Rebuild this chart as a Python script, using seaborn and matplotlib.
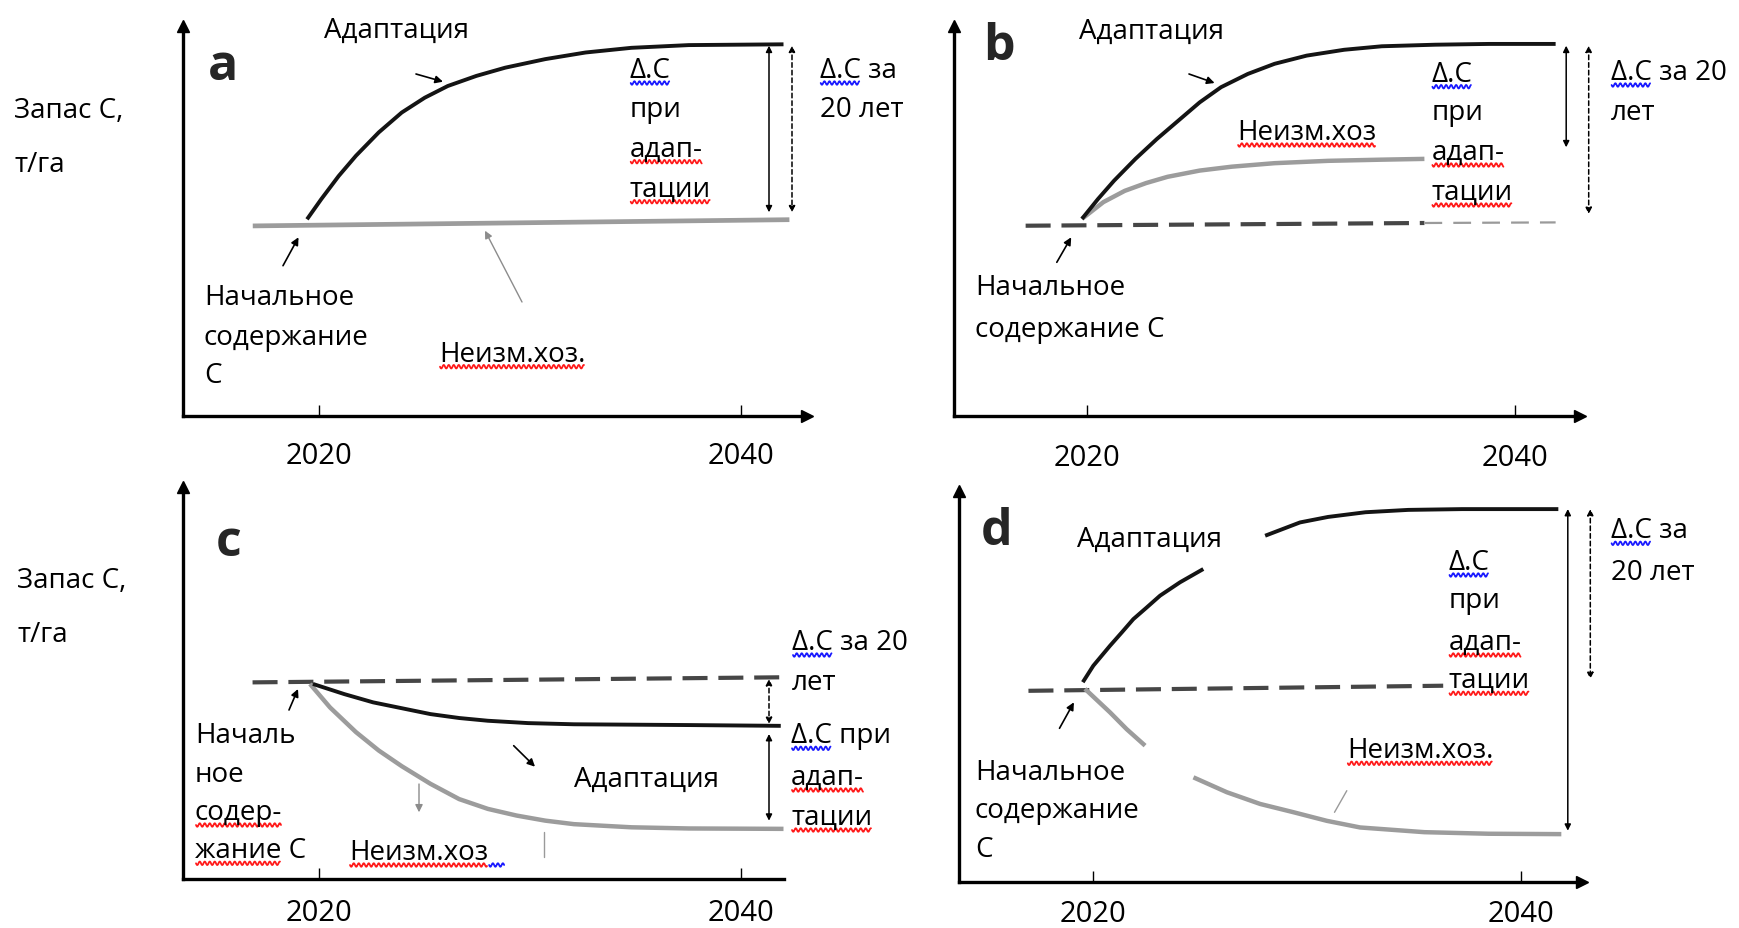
import numpy as np
import pandas as pd
import matplotlib
matplotlib.use("Agg")
import matplotlib.pyplot as plt
import seaborn as sns

sns.set_style("white")
plt.rcParams["font.family"] = ["Open Sans", "DejaVu Sans"]

# ---------------- data (years, C stock in arbitrary units 0..100) ----------------
tick_years = [2020, 2040]
tick_labels = ["2020", "2040"]

# panel a
a_adapt_year = [2019.45, 2020.13, 2020.95, 2021.77, 2022.85, 2023.94, 2025.03, 2026.12,
                2027.48, 2028.84, 2030.74, 2032.65, 2034.82, 2037.54, 2042.03]
a_adapt_val = [50.4, 55.6, 61.5, 66.7, 72.7, 77.8, 81.6, 84.6, 87.2, 89.3, 91.5, 93.2, 94.4, 95.1, 95.3]
a_base_year = [2016.88, 2042.31]
a_base_val = [48.7, 50.3]

# panel b
b_adapt_year = [2019.75, 2020.50, 2021.25, 2022.25, 2023.25, 2024.25, 2025.25, 2026.25,
                2027.50, 2028.75, 2030.25, 2032.00, 2033.76, 2036.26, 2038.76, 2041.88]
b_adapt_val = [50.5, 55.6, 60.3, 65.9, 71.0, 75.7, 80.4, 84.3, 87.7, 90.3, 92.4, 93.9, 94.8, 95.2, 95.4, 95.4]
b_bau_year = [2019.75, 2020.75, 2021.75, 2022.75, 2023.75, 2025.25, 2026.75, 2028.75, 2031.25, 2033.75, 2035.75]
b_bau_val = [50.5, 54.8, 57.7, 59.7, 61.3, 62.9, 63.9, 64.8, 65.4, 65.7, 65.9]
b_base_year = [2017.12, 2035.75]
b_base_val = [48.75, 49.45]
b_base2_year = [2035.75, 2041.88]
b_base2_val = [49.45, 49.6]

# panel c
c_adapt_year = [2019.73, 2021.22, 2022.58, 2023.94, 2025.30, 2026.66, 2028.02, 2029.93,
                2032.10, 2034.82, 2037.54, 2041.90]
c_adapt_val = [49.8, 47.2, 45.1, 43.6, 42.1, 41.1, 40.4, 39.8, 39.5, 39.4, 39.3, 39.1]
c_bau_year = [2019.59, 2020.54, 2021.77, 2022.85, 2023.94, 2025.30, 2026.66, 2028.02,
              2029.38, 2030.74, 2032.10, 2034.82, 2037.54, 2042.03]
c_bau_val = [49.8, 43.8, 37.5, 32.8, 28.8, 24.3, 20.4, 17.9, 16.2, 14.9, 14.0, 13.2, 12.9, 12.8]
c_base_year = [2016.87, 2042.03]
c_base_val = [50.2, 51.5]

# panel d (two visible pieces per curve)
d_adapt1_year = [2019.54, 2020.03, 2020.81, 2021.36, 2021.90, 2022.53, 2023.15, 2024.08, 2025.17]
d_adapt1_val = [51.1, 55.3, 60.4, 63.8, 67.2, 70.2, 73.2, 76.6, 80.0]
d_adapt2_year = [2028.06, 2029.69, 2031.0, 2032.75, 2034.75, 2037.26, 2041.76]
d_adapt2_val = [88.5, 91.9, 93.3, 94.5, 95.1, 95.3, 95.3]
d_bau1_year = [2019.64, 2020.81, 2021.59, 2022.45]
d_bau1_val = [49.4, 43.4, 39.1, 34.9]
d_bau2_year = [2024.71, 2026.27, 2027.83, 2029.38, 2030.94, 2032.50, 2035.50, 2038.50, 2041.90]
d_bau2_val = [26.8, 23.0, 20.0, 17.9, 15.7, 14.0, 12.8, 12.4, 12.3]
d_base_year = [2017.0, 2036.38]
d_base_val = [48.9, 50.2]

BLACK = "#141414"
GRAY = "#9c9c9c"
DGRAY = "#464646"

W, H = 1739, 929
fig = plt.figure(figsize=(W / 100, H / 100), dpi=100)
fig.patch.set_facecolor("white")


def add_panel(left, right, top, bottom, xlim, pad, xarrow=True):
    ax = fig.add_axes([left / W, 1 - bottom / H, (right - left) / W, (bottom - top) / H])
    ax.set_xlim(*xlim)
    ax.set_ylim(0, 100)
    ax.patch.set_alpha(0)
    for s in ["top", "right"]:
        ax.spines[s].set_visible(False)
    for s in ["left", "bottom"]:
        ax.spines[s].set_linewidth(2.4)
        ax.spines[s].set_color("black")
    ax.set_yticks([])
    ax.set_xticks(tick_years, tick_labels)
    ax.tick_params(axis="x", direction="in", length=8, width=1, labelsize=21, pad=pad,
                   colors="black", bottom=True)
    ax.plot([0], [1], marker="^", ms=9, color="black", transform=ax.transAxes, clip_on=False)
    if xarrow:
        ax.plot([1], [0], marker=">", ms=9, color="black", transform=ax.transAxes, clip_on=False)
    return ax


def curve(ax, xs, ys, color, lw, dashes=None):
    sns.lineplot(x=xs, y=ys, ax=ax, color=color, lw=lw, estimator=None, sort=False)
    line = ax.lines[-1]
    line.set_solid_capstyle("butt")
    line.set_solid_joinstyle("round")
    if dashes is not None:
        line.set_dashes(dashes)
    ax.set_xlabel("")
    ax.set_ylabel("")


ax_a = add_panel(182.5, 806.5, 27, 416.7, (2013.55, 2043.12), pad=18)
curve(ax_a, a_base_year, a_base_val, GRAY, 3.4)
curve(ax_a, a_adapt_year, a_adapt_val, BLACK, 2.8)

ax_b = add_panel(953.5, 1579.6, 27, 416.7, (2013.75, 2043.0), pad=20)
curve(ax_b, b_base_year, b_base_val, DGRAY, 3.0, dashes=(6, 2.6))
curve(ax_b, b_base2_year, b_base2_val, "#9a9a9a", 1.6, dashes=(8, 5))
curve(ax_b, b_bau_year, b_bau_val, GRAY, 3.2)
curve(ax_b, b_adapt_year, b_adapt_val, BLACK, 2.8)

ax_c = add_panel(182.5, 783.5, 488.3, 880, (2013.55, 2042.03), pad=14, xarrow=False)
curve(ax_c, c_base_year, c_base_val, DGRAY, 3.0, dashes=(6, 2.6))
curve(ax_c, c_bau_year, c_bau_val, GRAY, 3.2)
curve(ax_c, c_adapt_year, c_adapt_val, BLACK, 2.8)

ax_d = add_panel(958.9, 1582.3, 491.7, 883.3, (2013.75, 2042.88), pad=12)
curve(ax_d, d_base_year, d_base_val, DGRAY, 3.0, dashes=(6, 2.6))
curve(ax_d, d_bau1_year, d_bau1_val, GRAY, 3.2)
curve(ax_d, d_bau2_year, d_bau2_val, GRAY, 3.2)
curve(ax_d, d_adapt1_year, d_adapt1_val, BLACK, 2.8)
curve(ax_d, d_adapt2_year, d_adapt2_val, BLACK, 2.8)

# ---------------- overlay for annotations (pixel coordinates) ----------------
ov = fig.add_axes([0, 0, 1, 1])
ov.set_xlim(0, W)
ov.set_ylim(H, 0)
ov.axis("off")
ov.patch.set_alpha(0)
renderer = fig.canvas.get_renderer()
FS = 20
RED = "#ff1a1a"
BLUE = "#1a1aff"


def text_width(s, size=FS):
    t = ov.text(0, 0, s, fontsize=size)
    w = t.get_window_extent(renderer).width
    t.remove()
    return w


def squiggle(x0, x1, y, color):
    xs = np.arange(x0, x1 + 0.01, 0.5)
    ys = y + 1.8 * np.sin(2 * np.pi * (xs - x0) / 5.0)
    ov.plot(xs, ys, color=color, lw=1.3, solid_joinstyle="round")


def line_text(x, base, s, marks=()):
    ov.text(x, base, s, fontsize=FS, ha="left", va="baseline", color="black")
    for prefix, word, color in marks:
        x0 = x + (text_width(prefix) if prefix else 0)
        x1 = x0 + text_width(word)
        squiggle(x0 + 1, x1 - 1, base + 6, color)


def arrow(tail, tip, color="black", lw=1.2, scale=11):
    ov.annotate("", xy=tip, xytext=tail,
                arrowprops=dict(arrowstyle="-|>", color=color, lw=lw, mutation_scale=scale,
                                shrinkA=0, shrinkB=0))


def double_arrow(x, y0, y1, dashed=False):
    ov.annotate("", xy=(x, y1), xytext=(x, y0),
                arrowprops=dict(arrowstyle="<|-|>", color="black", lw=1.1, mutation_scale=9,
                                shrinkA=0, shrinkB=0,
                                linestyle=(0, (3, 2)) if dashed else "-"))


def plain(p0, p1, color, lw=1.1):
    ov.plot([p0[0], p1[0]], [p0[1], p1[1]], color=color, lw=lw)


# panel letters
ov.text(207.8, 80, "a", fontsize=36, fontweight="bold", va="baseline")
ov.text(982.9, 60, "b", fontsize=36, fontweight="bold", va="baseline")
ov.text(215.3, 556, "c", fontsize=36, fontweight="bold", va="baseline")
ov.text(980.3, 545, "d", fontsize=36, fontweight="bold", va="baseline")

# y labels
for xl, yb in ((14.4, 0), (17.2, 470.3)):
    line_text(xl, 118 + yb, "Запас С,")
    line_text(xl, 171.7 + yb, "т/га")

# ---- panel a texts ----
line_text(324, 38, "Адаптация")
line_text(629.7, 78, "Δ.С", [("", "Δ.С", BLUE)])
line_text(629.7, 116.7, "при")
line_text(629.7, 156.7, "адап-", [("", "адап-", RED)])
line_text(629.7, 196.7, "тации", [("", "тации", RED)])
line_text(819.7, 78, "Δ.С за", [("", "Δ.С", BLUE)])
line_text(819.7, 116.7, "20 лет")
line_text(203.8, 305, "Начальное")
line_text(203.8, 345, "содержание")
line_text(203.8, 383, "С")
line_text(439, 361.7, "Неизм.хоз.", [("", "Неизм.хоз.", RED)])
arrow((416, 75), (443, 82.7))
arrow((283, 266.7), (298.5, 238.3))
arrow((522, 303), (485, 231.7), color="#8c8c8c", lw=1.0)
double_arrow(769, 46.7, 213.3)
double_arrow(792, 46.7, 213.3, dashed=True)

# ---- panel b texts ----
line_text(1079.3, 39.3, "Адаптация")
line_text(1237.1, 140, "Неизм.хоз", [("", "Неизм.хоз", RED)])
line_text(1431.4, 81.7, "Δ.С", [("", "Δ.С", BLUE)])
line_text(1431.4, 120, "при")
line_text(1431.4, 160, "адап-", [("", "адап-", RED)])
line_text(1431.4, 200, "тации", [("", "тации", RED)])
line_text(1610.6, 80, "Δ.С за 20", [("", "Δ.С", BLUE)])
line_text(1610.6, 120, "лет")
line_text(974.9, 295, "Начальное")
line_text(974.9, 336.7, "содержание С")
arrow((1189, 75), (1214.6, 84))
arrow((1056.8, 263.3), (1071.2, 238.3))
double_arrow(1566.2, 46.7, 148.3)
double_arrow(1588.7, 46.7, 215, dashed=True)

# ---- panel c texts ----
line_text(792, 650, "Δ.С за 20", [("", "Δ.С", BLUE)])
line_text(792, 690, "лет")
line_text(791, 743.3, "Δ.С при", [("", "Δ.С", BLUE)])
line_text(791, 785, "адап-", [("", "адап-", RED)])
line_text(791, 825, "тации", [("", "тации", RED)])
line_text(195, 743.3, "Началь")
line_text(195, 781.7, "ное")
line_text(195, 820, "содер-", [("", "содер-", RED)])
line_text(195, 858.3, "жание С", [("", "жание", RED)])
line_text(349, 860, "Неизм.хоз", [("", "Неизм.хоз", RED)])
xb = 349 + text_width("Неизм.хоз")
squiggle(xb + 1, xb + 16, 866, BLUE)
line_text(574, 786.7, "Адаптация")
arrow((289, 711), (298, 690))
arrow((513.7, 746.7), (535, 767.7))
arrow((419, 785), (419, 813.3), color="#8c8c8c", lw=1.0)
plain((544, 833), (544, 858), "#9a9a9a", lw=1.0)
double_arrow(769, 680, 725, dashed=True)
double_arrow(769, 735, 821.7)

# ---- panel d texts ----
line_text(1076.6, 546.7, "Адаптация")
line_text(1448.5, 570, "Δ.С", [("", "Δ.С", BLUE)])
line_text(1448.5, 608.3, "при")
line_text(1448.5, 650, "адап-", [("", "адап-", RED)])
line_text(1448.5, 688.3, "тации", [("", "тации", RED)])
line_text(1610.6, 538.3, "Δ.С за", [("", "Δ.С", BLUE)])
line_text(1610.6, 580, "20 лет")
line_text(974.9, 780, "Начальное")
line_text(974.9, 818.3, "содержание")
line_text(974.9, 856.7, "С")
line_text(1346.8, 758.3, "Неизм.хоз.", [("", "Неизм.хоз.", RED)])
arrow((1059.5, 729.3), (1073.9, 703.3))
plain((1346.8, 791.7), (1334.5, 813.3), "#9a9a9a", lw=1.0)
double_arrow(1567.8, 510, 831.7)
double_arrow(1590.3, 510, 680, dashed=True)

fig.savefig("out.png", dpi=100, facecolor="white")
